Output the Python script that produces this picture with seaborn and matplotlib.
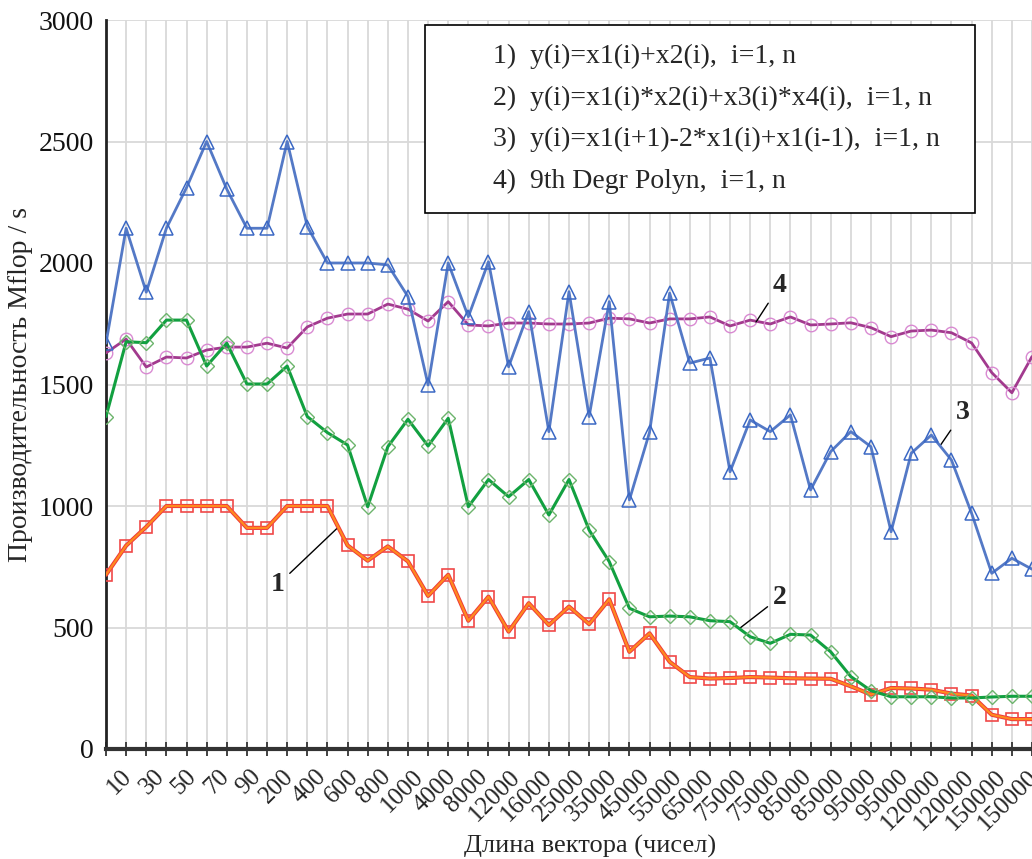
import numpy as np
import matplotlib
matplotlib.use("Agg")
import matplotlib.pyplot as plt
import seaborn as sns

sns.set_style("white")
plt.rcParams["font.family"] = ["Liberation Serif", "DejaVu Serif"]

# vector lengths shown under the x axis
x_labels = ["10", "30", "50", "70", "90", "200", "400", "600", "800", "1000",
            "4000", "8000", "12000", "16000", "25000", "35000", "45000", "55000",
            "65000", "75000", "75000", "85000", "85000", "95000", "95000",
            "120000", "120000", "150000", "150000"]

# Mflop/s for each measured point
perf1 = [717, 837, 914, 1000, 1000, 1000, 1000, 910, 910, 1000, 1000, 1000, 838,
         775, 834, 772, 630, 717, 528, 627, 483, 600, 510, 586, 514, 616, 400,
         476, 359, 296, 290, 292, 296, 294, 291, 290, 289, 258, 224, 251, 249,
         244, 228, 220, 141, 123, 123]
perf2 = [1368, 1676, 1672, 1765, 1765, 1576, 1670, 1502, 1502, 1576, 1368, 1302,
         1251, 997, 1244, 1357, 1247, 1361, 997, 1109, 1038, 1109, 963, 1109, 901,
         771, 579, 544, 547, 544, 528, 524, 462, 435, 472, 469, 400, 298, 240,
         215, 215, 215, 210, 210, 214, 217, 217]
perf3 = [1670, 2143, 1880, 2143, 2310, 2500, 2304, 2143, 2143, 2500, 2150, 2000,
         2000, 2000, 1992, 1862, 1498, 2000, 1779, 2005, 1573, 1800, 1306, 1882,
         1368, 1841, 1025, 1303, 1876, 1588, 1609, 1141, 1354, 1306, 1375, 1066,
         1224, 1306, 1244, 894, 1217, 1292, 1189, 970, 723, 785, 740]
perf4 = [1630, 1687, 1572, 1613, 1609, 1642, 1654, 1654, 1670, 1650, 1737, 1773,
         1790, 1790, 1831, 1810, 1761, 1841, 1745, 1741, 1753, 1753, 1749, 1749,
         1753, 1773, 1770, 1753, 1770, 1770, 1778, 1741, 1765, 1749, 1778, 1745,
         1749, 1754, 1734, 1697, 1720, 1724, 1713, 1671, 1549, 1466, 1615]

legend_labels = ["1)  y(i)=x1(i)+x2(i),  i=1, n",
                 "2)  y(i)=x1(i)*x2(i)+x3(i)*x4(i),  i=1, n",
                 "3)  y(i)=x1(i+1)-2*x1(i)+x1(i-1),  i=1, n",
                 "4)  9th Degr Polyn,  i=1, n"]

pos = np.arange(len(perf1))

fig = plt.figure(figsize=(10.32, 8.59), dpi=100)
ax = fig.add_axes([106 / 1032, 110 / 859, 926 / 1032, 729 / 859])

sns.lineplot(x=pos, y=perf4, ax=ax, color="#a23a8e", lw=2.0, marker="o",
             markersize=9, markerfacecolor="none", markeredgecolor="#d98ad2",
             markeredgewidth=1.0, zorder=3)
sns.lineplot(x=pos, y=perf1, ax=ax, color="#ee3a3a", lw=3.0, marker="s",
             markersize=9, markerfacecolor="none", markeredgecolor="#f04848",
             markeredgewidth=1.2, zorder=4)
sns.lineplot(x=pos, y=perf1, ax=ax, color="#ff8a1e", lw=1.6, zorder=5)
sns.lineplot(x=pos, y=perf2, ax=ax, color="#12a040", lw=2.2, marker="D",
             markersize=7.5, markerfacecolor="none", markeredgecolor="#6cb46c",
             markeredgewidth=1.0, zorder=6)
sns.lineplot(x=pos, y=perf3, ax=ax, color="#5479c6", lw=2.0, marker="^",
             markersize=10, markerfacecolor="none", markeredgecolor="#3b68c4",
             markeredgewidth=1.1, zorder=7)

ax.set_xlim(0, 45.86)
ax.set_ylim(0, 3000)
ax.set_xticks(pos)
ax.set_xticklabels([])
ax.set_yticks(np.arange(0, 3001, 500))
ax.grid(True, color="#d9d9d9", lw=1.3)
ax.set_axisbelow(True)
for s in ["top", "right"]:
    ax.spines[s].set_visible(False)
ax.spines["left"].set_linewidth(2)
ax.spines["left"].set_color("#222222")
ax.spines["bottom"].set_linewidth(3)
ax.spines["bottom"].set_color("#333333")
ax.tick_params(axis="y", direction="out", length=6, width=1.5, labelsize=20,
               pad=3, colors="#111111")
ax.tick_params(axis="x", direction="inout", length=10, width=1.3, colors="#333333")

# second axis only carries the printed vector lengths
ax2 = ax.twiny()
ax2.set_xlim(-0.45, 28.15)
ax2.xaxis.set_ticks_position("bottom")
for s in ax2.spines.values():
    s.set_visible(False)
ax2.set_xticks(np.arange(len(x_labels)))
ax2.set_xticklabels(x_labels, rotation=45, ha="right", rotation_mode="anchor",
                    fontsize=18)
ax2.tick_params(axis="x", length=0, pad=12)

ax.set_ylabel("Производительность Mflop / s", fontsize=20, labelpad=4)
ax.set_xlabel("Длина вектора (чисел)", fontsize=19)
ax.xaxis.set_label_coords(0.523, -0.118)

handles = [plt.Line2D([], [], linestyle="none") for _ in legend_labels]
leg = ax.legend(handles, legend_labels, loc="upper left",
                bbox_to_anchor=(425 / 1032, 1 - 25 / 859, 550 / 1032, 0.0),
                bbox_transform=fig.transFigure, mode="expand", fontsize=20,
                handlelength=1.78, handletextpad=0.0, labelspacing=0.59,
                borderpad=0.66, borderaxespad=0.0, fancybox=False,
                framealpha=1, edgecolor="black")
leg.get_frame().set_linewidth(1.2)

ann = dict(arrowstyle="-", color="black", lw=1.0, shrinkA=2, shrinkB=0)
ax.annotate("1", xy=(11.49, 909), xytext=(8.52, 675), fontsize=20,
            fontweight="bold", ha="center", va="center", arrowprops=ann)
ax.annotate("2", xy=(31.5, 498), xytext=(33.48, 625), fontsize=20,
            fontweight="bold", ha="center", va="center", arrowprops=ann)
ax.annotate("3", xy=(41.46, 1251), xytext=(42.55, 1383), fontsize=20,
            fontweight="bold", ha="center", va="center", arrowprops=ann)
ax.annotate("4", xy=(32.29, 1757), xytext=(33.48, 1909), fontsize=20,
            fontweight="bold", ha="center", va="center", arrowprops=ann)

fig.savefig("out.png", dpi=100)
